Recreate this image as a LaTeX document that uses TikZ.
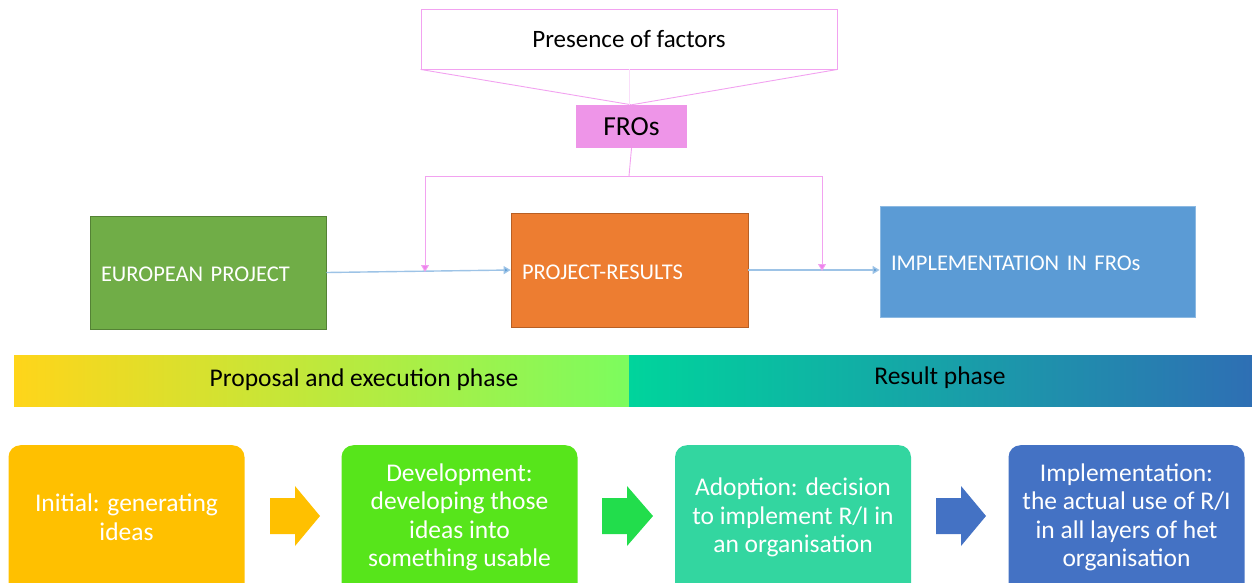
\documentclass[tikz,border=0pt]{standalone}
\usepackage{fontspec}
\setmainfont{Carlito}
\usetikzlibrary{arrows.meta}
\definecolor{pinkl}{HTML}{F2A2F0}
\definecolor{pinkt}{HTML}{EE82EE}
\definecolor{frofill}{HTML}{EE95E8}
\definecolor{eugreen}{HTML}{70AD47}
\definecolor{eugreenb}{HTML}{548235}
\definecolor{orng}{HTML}{ED7D31}
\definecolor{orngb}{HTML}{B85F24}
\definecolor{blu}{HTML}{5B9BD5}
\definecolor{blul}{HTML}{9DC3E6}
\definecolor{ybar}{HTML}{FFD51A}
\definecolor{gbar}{HTML}{7CFC5E}
\definecolor{tbar}{HTML}{00D49C}
\definecolor{bbar}{HTML}{2E6FB4}
\definecolor{c1}{HTML}{FFC000}
\definecolor{c2}{HTML}{57E51B}
\definecolor{a2}{HTML}{22DD4C}
\definecolor{c3}{HTML}{33D6A0}
\definecolor{c4}{HTML}{4472C4}
\tikzset{
  topbox/.style={draw, line width=0.8pt, minimum width=#1, text width=#1-22pt, inner xsep=11pt, align=left, text=white, text height=18.5pt, text depth=0pt, font=\fontsize{22.5}{27}\selectfont},
  pinkline/.style={draw=pinkl, line width=0.9pt},
  pinkarrow/.style={pinkline, -{Triangle[width=8pt,length=7pt,fill=pinkt]}},
  bluearrow/.style={draw=blul, line width=1.4pt, -{Triangle[width=8pt,length=7pt,fill=blu]}},
  barnode/.style={minimum height=51pt, inner sep=0pt},
  bartext/.style={inner sep=0pt, font=\fontsize{25.5}{30}\selectfont},
  stagebox/.style={rounded corners=12pt, minimum width=236pt, minimum height=170pt, anchor=north, inner sep=0pt},
  stagetext/.style={text=white, align=center, font=\fontsize{25.5}{28.5}\selectfont},
}
\begin{document}
\begin{tikzpicture}[x=1pt,y=-1pt]
\useasboundingbox (0,0) rectangle (1252,582);
\clip (0,0) rectangle (1252,582);
% top part
\node[draw=pinkl, line width=0.9pt, minimum width=416pt, minimum height=60pt, inner sep=0pt,
      font=\fontsize{25}{30}\selectfont] (pres) at (629,39) {Presence of factors};
\node[fill=frofill, minimum width=111pt, minimum height=43pt, inner sep=0pt,
      font=\fontsize{27.5}{32}\selectfont] (fros) at (631.5,126.5) {FROs};
\draw[pinkline] (pres.south west) -- (fros.north);
\draw[pinkline] (pres.south east) -- (fros.north);
\draw[draw=pinkl!35, line width=0.6pt] (pres.south) -- (pres.south |- fros.north);

\node[topbox=236pt, fill=eugreen, draw=eugreenb, minimum height=113pt] (eu) at (208,272.5) {EUROPEAN PROJECT};
\node[topbox=237pt, fill=orng, draw=orngb, minimum height=114pt] (pr) at (629.5,270) {PROJECT-RESULTS};
\node[topbox=315pt, fill=blu, draw=blu!70!white, minimum height=111pt] (im) at (1037.5,261.5) {IMPLEMENTATION IN FROs};

\coordinate (jn) at (629,176);
\coordinate (jl) at (425,176);
\coordinate (jr) at (822,176);
\coordinate (tl) at (425,272);
\coordinate (tr) at (822,271);
\draw[bluearrow] (eu.east) -- (pr.west);
\draw[bluearrow] (pr.east) -- (pr.east -| im.west);
\draw[pinkline] (fros.south) -- (jn);
\draw[pinkline] (jl) -- (jr);
\draw[pinkarrow] (jl) -- (tl);
\draw[pinkarrow] (jr) -- (tr);

% phase bars
\node[barnode, left color=ybar, right color=gbar, minimum width=615pt] (ph1) at (321.5,381) {};
\node[barnode, left color=tbar, right color=bbar, minimum width=623pt] (ph2) at (940.5,380.5) {};
\node[bartext] (ph1t) at (364,380) {Proposal and execution phase};
\node[bartext] (ph2t) at (940,378) {Result phase};

% stages
\node[stagebox, fill=c1] (s1) at (126.5,445) {};
\node[stagebox, fill=c2] (s2) at (459.5,445) {};
\node[stagebox, fill=c3] (s3) at (793,445) {};
\node[stagebox, fill=c4] (s4) at (1126.5,445) {};
\node[stagetext] (t1) at (126.5,517) {Initial: generating\\ideas};
\node[stagetext] (t2) at (459.5,517.5) {Development:\\developing those\\ideas into\\something usable};
\node[stagetext] (t3) at (793,517.5) {Adoption: decision\\to implement R/I in\\an organisation};
\node[stagetext] (t4) at (1126.5,517.5) {Implementation:\\the actual use of R/I\\in all layers of het\\organisation};

\fill[c1] (270,498) -- (295,498) -- (295,486) -- (320,516) -- (295,546) -- (295,534) -- (270,534) -- cycle;
\fill[a2] (602,498) -- (627,498) -- (627,486) -- (653,516) -- (627,546) -- (627,534) -- (602,534) -- cycle;
\fill[c4] (936,498) -- (961,498) -- (961,486) -- (986,516) -- (961,546) -- (961,534) -- (936,534) -- cycle;
\end{tikzpicture}
\end{document}
